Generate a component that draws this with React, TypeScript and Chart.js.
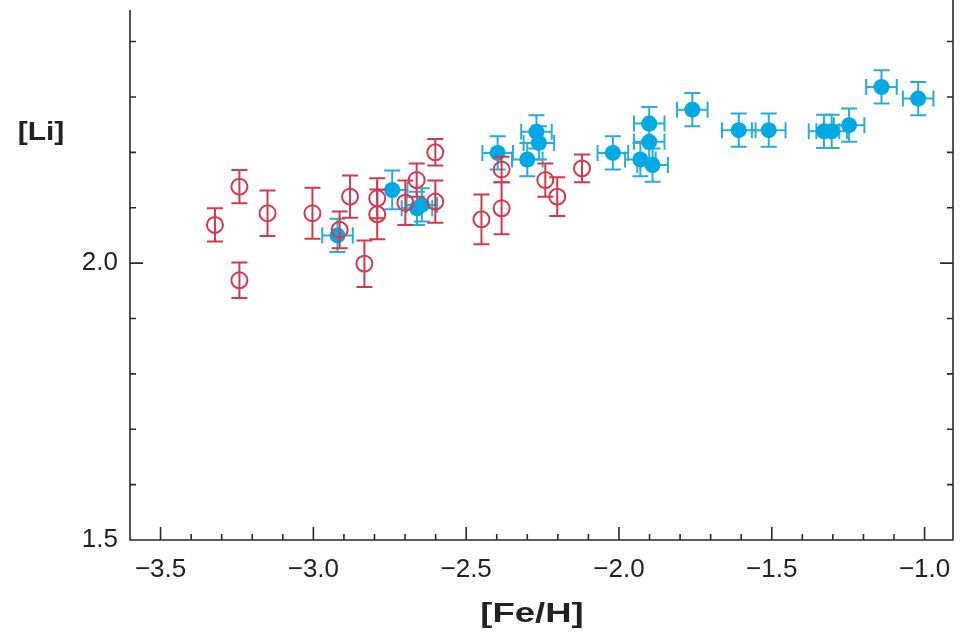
import React, { useEffect, useRef } from "react";
import { Chart, registerables } from "chart.js";

Chart.register(...registerables);

// Open red circles: [Fe/H], [Li], error in [Li]
const redFeH = [-3.322, -3.242, -3.242, -3.150, -3.003, -2.914, -2.880, -2.833, -2.791, -2.791, -2.699, -2.662, -2.601, -2.601, -2.450, -2.384, -2.384, -2.241, -2.202, -2.121];
const redLi = [2.069, 2.138, 1.969, 2.090, 2.090, 2.060, 2.120, 1.999, 2.117, 2.088, 2.109, 2.150, 2.111, 2.200, 2.079, 2.099, 2.169, 2.150, 2.120, 2.171];
const redLiErr = [0.03, 0.03, 0.032, 0.041, 0.046, 0.033, 0.038, 0.042, 0.036, 0.045, 0.04, 0.03, 0.038, 0.024, 0.045, 0.047, 0.023, 0.03, 0.035, 0.025];

// Filled blue circles: [Fe/H], [Li], errors
const blueFeH = [-2.921, -2.742, -2.661, -2.645, -2.397, -2.300, -2.270, -2.262, -2.020, -1.930, -1.901, -1.901, -1.890, -1.760, -1.608, -1.510, -1.329, -1.304, -1.247, -1.141, -1.021];
const blueLi = [2.050, 2.132, 2.099, 2.105, 2.199, 2.187, 2.237, 2.217, 2.199, 2.187, 2.252, 2.219, 2.177, 2.277, 2.240, 2.240, 2.238, 2.238, 2.249, 2.318, 2.297];
const blueFeHErr = [0.05, 0.05, 0.05, 0.05, 0.05, 0.05, 0.05, 0.05, 0.05, 0.05, 0.05, 0.05, 0.05, 0.05, 0.055, 0.055, 0.05, 0.05, 0.05, 0.05, 0.05];
const blueLiErr = [0.03, 0.035, 0.03, 0.03, 0.03, 0.03, 0.03, 0.03, 0.03, 0.03, 0.03, 0.03, 0.03, 0.03, 0.03, 0.03, 0.03, 0.03, 0.03, 0.03, 0.03];

// Axis ticks
const xTickValues = [-3.5, -3.0, -2.5, -2.0, -1.5, -1.0];
const xMinorTicks = [-3.4, -3.3, -3.2, -3.1, -2.9, -2.8, -2.7, -2.6, -2.4, -2.3, -2.2, -2.1, -1.9, -1.8, -1.7, -1.6, -1.4, -1.3, -1.2, -1.1];
const yTickValues = [1.5, 2.0];
const yMinorTicks = [1.6, 1.7, 1.8, 1.9, 2.1, 2.2, 2.3, 2.4];

const xTitle = "[Fe/H]";
const yTitle = "[Li]";

const RED = "rgb(212,58,78)";
const BLUE = "rgb(0,168,228)";
const BLUE_ERR = "rgb(40,172,218)";
const AXIS = "#2a2a2a";
const FONT = '"Liberation Sans", Arial, sans-serif';

const fmt = (v: number) => v.toFixed(1).replace("-", "\u2212");

const errorBarPlugin = {
  id: "errorBars",
  beforeDatasetDraw(chart: any, args: any) {
    const ds = chart.data.datasets[args.index];
    const meta = args.meta;
    const xs = chart.scales.x;
    const ys = chart.scales.y;
    const ctx = chart.ctx;
    const cap = 8;
    ctx.save();
    ctx.strokeStyle = ds.errColor;
    ctx.lineWidth = 2;
    meta.data.forEach((el: any, i: number) => {
      const raw = ds.data[i];
      const cx = el.x;
      const cy = el.y;
      ctx.beginPath();
      if (raw.yErr) {
        const y1 = ys.getPixelForValue(raw.y + raw.yErr);
        const y2 = ys.getPixelForValue(raw.y - raw.yErr);
        ctx.moveTo(cx, y1);
        ctx.lineTo(cx, y2);
        ctx.moveTo(cx - cap, y1);
        ctx.lineTo(cx + cap, y1);
        ctx.moveTo(cx - cap, y2);
        ctx.lineTo(cx + cap, y2);
      }
      if (raw.xErr) {
        const x1 = xs.getPixelForValue(raw.x - raw.xErr);
        const x2 = xs.getPixelForValue(raw.x + raw.xErr);
        ctx.moveTo(x1, cy);
        ctx.lineTo(x2, cy);
        ctx.moveTo(x1, cy - cap);
        ctx.lineTo(x1, cy + cap);
        ctx.moveTo(x2, cy - cap);
        ctx.lineTo(x2, cy + cap);
      }
      ctx.stroke();
    });
    ctx.restore();
  },
};

const framePlugin = {
  id: "frame",
  afterDraw(chart: any) {
    const { ctx, chartArea: a, scales } = chart;
    const xs = scales.x;
    const ys = scales.y;
    const major = 13;
    const minor = 6;
    ctx.save();
    ctx.strokeStyle = AXIS;
    ctx.lineWidth = 1.6;
    ctx.beginPath();
    ctx.moveTo(a.left, a.top);
    ctx.lineTo(a.left, a.bottom);
    ctx.lineTo(a.right, a.bottom);
    ctx.lineTo(a.right, a.top - 10);
    xTickValues.forEach((v) => {
      const p = xs.getPixelForValue(v);
      ctx.moveTo(p, a.bottom);
      ctx.lineTo(p, a.bottom - major);
    });
    xMinorTicks.forEach((v) => {
      const p = xs.getPixelForValue(v);
      ctx.moveTo(p, a.bottom);
      ctx.lineTo(p, a.bottom - minor);
    });
    yTickValues.forEach((v) => {
      const p = ys.getPixelForValue(v);
      ctx.moveTo(a.left, p);
      ctx.lineTo(a.left + major, p);
      ctx.moveTo(a.right, p);
      ctx.lineTo(a.right - major, p);
    });
    yMinorTicks.forEach((v) => {
      const p = ys.getPixelForValue(v);
      ctx.moveTo(a.left, p);
      ctx.lineTo(a.left + minor, p);
      ctx.moveTo(a.right, p);
      ctx.lineTo(a.right - minor, p);
    });
    ctx.stroke();

    ctx.fillStyle = "#222";
    ctx.textAlign = "center";
    ctx.textBaseline = "middle";
    ctx.save();
    ctx.font = `bold 25px ${FONT}`;
    ctx.translate(41, 133);
    ctx.scale(1.2, 1);
    ctx.fillText(yTitle, 0, 0);
    ctx.restore();
    ctx.save();
    ctx.font = `bold 27px ${FONT}`;
    ctx.translate(a.left + 402, 615);
    ctx.scale(1.35, 1);
    ctx.fillText(xTitle, 0, 0);
    ctx.restore();
    ctx.restore();
  },
};

export default function App() {
  const ref = useRef<HTMLCanvasElement | null>(null);

  useEffect(() => {
    if (!ref.current) return;
    const redData = redFeH.map((x, i) => ({ x, y: redLi[i], yErr: redLiErr[i] }));
    const blueData = blueFeH.map((x, i) => ({ x, y: blueLi[i], xErr: blueFeHErr[i], yErr: blueLiErr[i] }));

    const chart = new Chart(ref.current, {
      type: "scatter",
      data: {
        datasets: [
          {
            label: "open",
            data: redData,
            order: 0,
            pointStyle: "circle",
            pointRadius: 8,
            pointHoverRadius: 8,
            borderColor: RED,
            backgroundColor: "rgba(0,0,0,0)",
            borderWidth: 2,
            errColor: RED,
          } as any,
          {
            label: "filled",
            data: blueData,
            order: 1,
            pointStyle: "circle",
            pointRadius: 8,
            pointHoverRadius: 8,
            borderColor: BLUE,
            backgroundColor: BLUE,
            borderWidth: 0,
            errColor: BLUE_ERR,
          } as any,
        ],
      },
      options: {
        animation: false,
        responsive: false,
        events: [],
        layout: { padding: { top: 10, right: 5, left: 0, bottom: 0 } },
        plugins: {
          legend: { display: false },
          tooltip: { enabled: false },
        },
        scales: {
          x: {
            type: "linear",
            min: -3.6,
            max: -0.907,
            afterBuildTicks: (s: any) => {
              s.ticks = xTickValues.map((v) => ({ value: v }));
            },
            afterFit: (s: any) => {
              s.height = 92;
              s.paddingLeft = 0;
              s.paddingRight = 0;
            },
            grid: { display: false, drawTicks: false },
            border: { display: false },
            ticks: {
              callback: (v: any) => fmt(Number(v)),
              font: { family: FONT, size: 26 },
              color: "#222",
              padding: 14,
              maxRotation: 0,
              autoSkip: false,
            },
          },
          y: {
            type: "linear",
            min: 1.5,
            max: 2.457,
            afterBuildTicks: (s: any) => {
              s.ticks = yTickValues.map((v) => ({ value: v }));
            },
            afterFit: (s: any) => {
              s.width = 130;
              s.paddingTop = 0;
              s.paddingBottom = 0;
            },
            grid: { display: false, drawTicks: false },
            border: { display: false },
            ticks: {
              callback: (v: any) => fmt(Number(v)),
              font: { family: FONT, size: 26 },
              color: "#222",
              padding: 12,
              autoSkip: false,
            },
          },
        },
      },
      plugins: [errorBarPlugin, framePlugin],
    });
    return () => chart.destroy();
  }, []);

  return (
    <canvas
      ref={ref}
      width={963}
      height={632}
      style={{ position: "fixed", left: 0, top: 0, display: "block", background: "#fff" }}
    />
  );
}
